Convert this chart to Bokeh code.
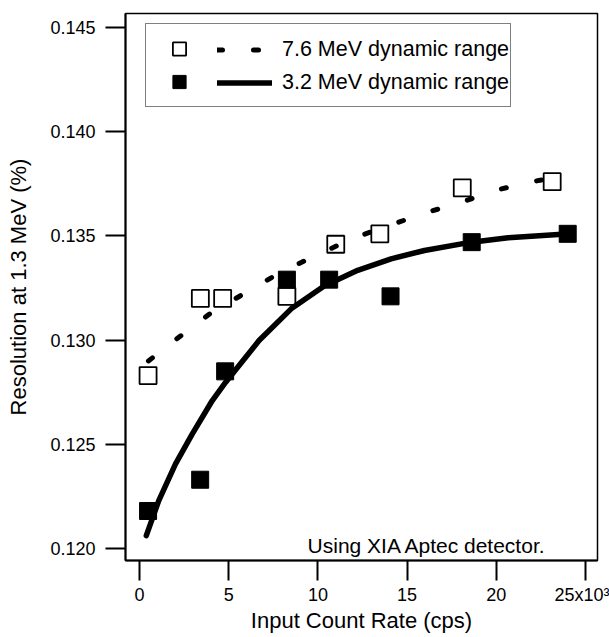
from bokeh.plotting import figure
from bokeh.models import (FixedTicker, Legend, LegendItem, Label, Range1d,
                          PrintfTickFormatter)
from bokeh.embed import file_html
from bokeh.resources import INLINE

# ---- data (x in 10^3 cps, y in %) ----
open_x = [0.48, 3.41, 4.66, 8.26, 11.0, 13.47, 18.09, 23.13]
open_y = [0.1283, 0.1320, 0.1320, 0.1321, 0.1346, 0.1351, 0.1373, 0.1376]

filled_x = [0.48, 3.40, 4.80, 8.26, 10.63, 14.07, 18.62, 24.0]
filled_y = [0.1218, 0.1233, 0.1285, 0.1329, 0.1329, 0.1321, 0.1347, 0.1351]

fit76_x = [0.5, 2.0, 4.0, 6.0, 8.0, 10.0, 12.0, 14.0, 16.0, 18.0, 20.0, 22.0, 23.3]
fit76_y = [0.1290, 0.1300, 0.1313, 0.1323, 0.1333, 0.1341, 0.1349, 0.1355,
           0.1361, 0.1366, 0.1372, 0.1376, 0.1378]

fit32_x = [0.38, 1.08, 2.02, 2.96, 4.08, 4.83, 6.70, 8.5, 10.35, 12.23, 14.1,
           15.97, 18.6, 20.66, 23.47, 24.0]
fit32_y = [0.12062, 0.12230, 0.12406, 0.12550, 0.12710, 0.12798, 0.12998,
           0.13150, 0.1326, 0.13335, 0.1339, 0.1343, 0.1347, 0.13491,
           0.13507, 0.1351]

x_ticks = [0, 5, 10, 15, 20, 25]
x_tick_labels = ["0", "5", "10", "15", "20", "25x10³"]
y_ticks = [0.120, 0.125, 0.130, 0.135, 0.140, 0.145]

label_76 = "7.6 MeV dynamic range"
label_32 = "3.2 MeV dynamic range"
note = "Using XIA Aptec detector."
x_title = "Input Count Rate (cps)"
y_title = "Resolution at 1.3 MeV (%)"

FONT = "Liberation Sans"

p = figure(width=609, height=637, output_backend="svg", toolbar_location=None,
           x_range=Range1d(-0.785, 25.67), y_range=Range1d(0.119424, 0.145672),
           min_border_left=125, min_border_right=12, min_border_top=13,
           min_border_bottom=77)
p.grid.visible = False
p.outline_line_color = "black"
p.outline_line_width = 1.5
p.background_fill_color = "white"
p.border_fill_color = "white"

r_open = p.scatter(open_x, open_y, marker="square", size=17, fill_color="white",
                   line_color="black", line_width=1.8)
r_dash = p.line(fit76_x, fit76_y, line_width=5, line_dash="5 31",
                line_cap="round", color="black")
r_solid = p.line(fit32_x, fit32_y, line_width=5.5, color="black",
                 line_cap="round", line_join="round")
r_filled = p.scatter(filled_x, filled_y, marker="square", size=17,
                     color="black")

for ax in (p.xaxis[0], p.yaxis[0]):
    ax.axis_line_width = 2
    ax.major_tick_line_width = 2
    ax.major_tick_in = 0
    ax.major_tick_out = 20
    ax.minor_tick_in = 0
    ax.minor_tick_out = 0
    ax.major_label_text_font = FONT
    ax.major_label_text_font_size = "18px"
    ax.major_label_text_color = "black"
    ax.axis_label_text_font = FONT
    ax.axis_label_text_font_size = "22px"
    ax.axis_label_text_font_style = "normal"
    ax.axis_label_text_color = "black"

xa = p.xaxis[0]
xa.ticker = FixedTicker(ticks=x_ticks)
xa.major_label_overrides = {t: s for t, s in zip(x_ticks, x_tick_labels)}
xa.axis_label = x_title
xa.major_label_standoff = 4
xa.axis_label_standoff = 0

ya = p.yaxis[0]
ya.ticker = FixedTicker(ticks=y_ticks)
ya.formatter = PrintfTickFormatter(format="%.3f")
ya.axis_label = y_title
ya.major_label_standoff = 10
ya.axis_label_standoff = 16

legA = Legend(items=[LegendItem(label=" ", renderers=[r_open]),
                     LegendItem(label=" ", renderers=[r_filled])],
              location=(20, 453), orientation="vertical", padding=8,
              spacing=-1, glyph_width=50, glyph_height=33, label_height=33,
              label_width=298, label_standoff=0, margin=0,
              border_line_color="black", border_line_width=1.5,
              background_fill_color="white", background_fill_alpha=1.0,
              label_text_font=FONT, label_text_font_size="21px")
legB = Legend(items=[LegendItem(label=label_76, renderers=[r_dash]),
                     LegendItem(label=label_32, renderers=[r_solid])],
              location=(92, 461), orientation="vertical", padding=0,
              spacing=-1, glyph_width=55, glyph_height=33, label_height=33,
              label_standoff=10, margin=0,
              border_line_color=None, background_fill_alpha=0.0,
              label_text_font=FONT, label_text_font_size="21.5px",
              label_text_color="black")
p.add_layout(legA)
p.add_layout(legB)

p.add_layout(Label(x=9.42, y=0.12014, text=note, text_font=FONT,
                   text_font_size="21px", text_baseline="alphabetic",
                   text_align="left", text_color="black"))

open("out.html", "w").write(file_html(p, INLINE))
